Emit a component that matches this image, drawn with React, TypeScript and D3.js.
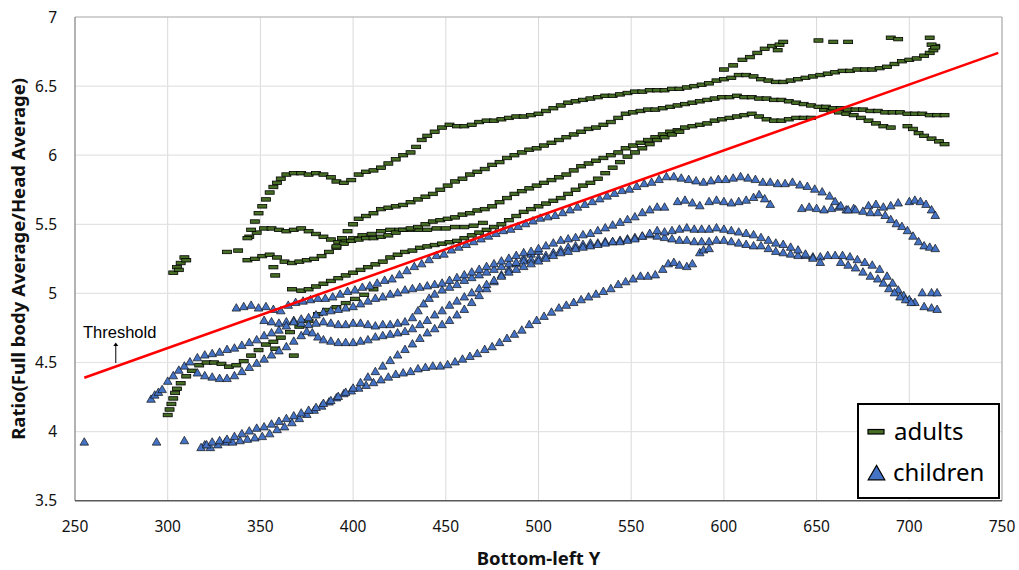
import React from "react";
import * as d3 from "d3";

type P = [number, number];

const xTicks = [250, 300, 350, 400, 450, 500, 550, 600, 650, 700, 750];
const yTicks = [3.5, 4, 4.5, 5, 5.5, 6, 6.5, 7];
const thresholdLine: P[] = [[255, 4.39], [748, 6.74]];

// adults (green dashes)
const adultsA1: P[] = [[343,5.4],[345,5.46],[347,5.52],[349,5.58],[351,5.63],[353,5.68],[355,5.73],[357,5.77],[359,5.8],[361,5.83],[364,5.86],[368,5.87],[372,5.87],[376,5.86],[380,5.87],[384,5.86],[388,5.84],[391,5.81],[395,5.8],[399,5.82],[403,5.86],[407,5.88],[411,5.89],[415,5.91],[419,5.94],[423,5.97],[427,6.0],[431,6.02],[434,6.06],[437,6.11],[440,6.14],[444,6.17],[448,6.2],[452,6.22],[456,6.21],[460,6.21],[464,6.22],[468,6.24],[472,6.25],[476,6.25],[480,6.26],[484,6.27],[488,6.28],[492,6.28],[496,6.29],[500,6.3],[504,6.32],[508,6.34],[512,6.36],[516,6.38],[520,6.39],[524,6.4],[528,6.41],[532,6.42],[536,6.43],[540,6.43],[544,6.44],[548,6.45],[552,6.46],[556,6.46],[560,6.47],[564,6.47],[568,6.47],[572,6.48],[576,6.48],[580,6.49],[584,6.5],[588,6.51],[592,6.52],[596,6.54],[600,6.55],[604,6.56],[608,6.58],[612,6.58],[616,6.57],[620,6.55],[624,6.54],[628,6.53],[632,6.53],[636,6.54],[640,6.55],[644,6.56],[648,6.57],[652,6.58],[656,6.59],[660,6.6],[664,6.61],[668,6.61],[672,6.62],[676,6.62],[680,6.62],[684,6.63],[688,6.64],[692,6.66],[696,6.68],[700,6.69],[704,6.7],[708,6.72],[711,6.74],[713,6.76],[714,6.79]];
const adultsCurl: P[] = [[600,6.62],[605,6.65],[610,6.69],[614,6.71],[618,6.74],[622,6.77],[626,6.79],[630,6.8],[632,6.82],[629,6.76],[651,6.83],[659,6.82],[667,6.82],[690,6.85],[694,6.84],[711,6.85],[712,6.8],[714,6.78]];
const adultsA2: P[] = [[343,5.24],[347,5.25],[351,5.27],[355,5.28],[359,5.26],[363,5.23],[367,5.22],[371,5.23],[375,5.24],[379,5.25],[383,5.27],[387,5.3],[391,5.33],[395,5.36],[399,5.38],[403,5.39],[407,5.4],[411,5.4],[415,5.41],[419,5.42],[423,5.44],[427,5.46],[431,5.47],[435,5.48],[439,5.5],[443,5.52],[447,5.53],[451,5.54],[455,5.55],[459,5.57],[463,5.58],[467,5.6],[471,5.61],[475,5.63],[479,5.66],[483,5.69],[487,5.72],[491,5.74],[495,5.76],[499,5.78],[503,5.8],[507,5.82],[511,5.84],[515,5.86],[519,5.89],[523,5.92],[527,5.94],[531,5.96],[535,5.98],[539,6.0],[543,6.02],[547,6.05],[551,6.07],[555,6.09],[559,6.11],[563,6.13],[567,6.15],[571,6.17],[575,6.18],[579,6.2],[583,6.21],[587,6.22],[591,6.23],[595,6.25],[599,6.26],[603,6.27],[607,6.28],[611,6.29],[615,6.3],[619,6.28],[623,6.26],[627,6.25],[631,6.25],[635,6.26],[639,6.27],[643,6.27],[647,6.27],[654,6.33],[658,6.32],[662,6.31],[666,6.3],[670,6.29],[674,6.27],[678,6.25],[682,6.23],[686,6.21],[690,6.2],[699,6.21],[702,6.19],[705,6.16],[708,6.14],[712,6.12],[716,6.1],[719,6.08]];
const adultsA3: P[] = [[391,5.34],[394,5.4],[397,5.45],[400,5.5],[403,5.54],[407,5.56],[411,5.58],[415,5.61],[419,5.62],[423,5.63],[427,5.64],[431,5.66],[435,5.68],[439,5.7],[443,5.72],[447,5.75],[451,5.78],[455,5.81],[459,5.83],[463,5.86],[467,5.88],[471,5.9],[475,5.93],[479,5.95],[483,5.98],[487,6.0],[491,6.02],[495,6.04],[499,6.05],[503,6.07],[507,6.09],[511,6.11],[515,6.13],[519,6.15],[523,6.17],[527,6.19],[531,6.2],[535,6.22],[539,6.24],[543,6.27],[547,6.3],[551,6.31],[555,6.32],[559,6.33],[563,6.33],[567,6.34],[571,6.35],[575,6.36],[579,6.37],[583,6.38],[587,6.39],[591,6.4],[595,6.41],[599,6.42],[603,6.42],[607,6.43],[611,6.42],[615,6.42],[619,6.41],[623,6.41],[627,6.4],[631,6.4],[635,6.39],[639,6.38],[643,6.37],[647,6.36],[651,6.35],[655,6.35],[659,6.34],[663,6.34],[667,6.33],[671,6.33],[675,6.33],[679,6.32],[683,6.32],[687,6.31],[691,6.31],[695,6.31],[699,6.3],[703,6.3],[707,6.3],[711,6.29],[715,6.29],[719,6.29]];
const adultsA4: P[] = [[372,5.02],[376,5.03],[380,5.05],[384,5.07],[388,5.09],[392,5.11],[396,5.13],[400,5.15],[404,5.17],[408,5.19],[412,5.21],[416,5.23],[420,5.26],[424,5.28],[428,5.3],[432,5.31],[436,5.33],[440,5.34],[444,5.35],[448,5.36],[452,5.37],[456,5.38],[460,5.4],[464,5.42],[468,5.44],[472,5.46],[476,5.48],[480,5.5],[484,5.53],[488,5.56],[492,5.59],[496,5.61],[500,5.63],[504,5.65],[508,5.67],[512,5.69],[516,5.72],[520,5.75],[524,5.78],[528,5.8],[532,5.83],[536,5.87],[540,5.91],[544,5.95],[548,5.99],[552,6.02],[556,6.05],[560,6.08],[564,6.11],[568,6.13],[572,6.15],[576,6.17]];
const adultsA5: P[] = [[300,4.12],[301,4.16],[302,4.2],[303,4.24],[304,4.28],[305,4.31],[307,4.35],[310,4.4],[313,4.44],[317,4.48],[321,4.5],[325,4.5],[329,4.49],[333,4.47],[337,4.48],[341,4.51],[345,4.55],[349,4.59],[353,4.63],[357,4.65],[361,4.68],[366,4.72],[371,4.76],[376,4.8],[381,4.85],[386,4.88],[391,4.9],[396,4.93],[401,4.96],[406,4.99],[411,5.03]];
const adultsA6: P[] = [[344,5.41],[348,5.44],[352,5.47],[356,5.47],[360,5.46],[364,5.45],[368,5.46],[372,5.47],[376,5.45],[380,5.43],[384,5.41],[388,5.39],[392,5.37],[396,5.38],[400,5.4],[405,5.42],[410,5.43],[415,5.45],[420,5.46],[425,5.46],[430,5.46],[435,5.46],[440,5.46],[445,5.47],[450,5.47],[455,5.48],[460,5.48],[465,5.49],[470,5.51]];
const adultsStray: P[] = [[303,5.15],[305,5.19],[307,5.22],[309,5.26],[310,5.24],[306,5.17],[332,5.3],[338,5.31],[357,5.19],[358,5.13],[367,5.03],[368,4.55],[358,4.6]];

// children (blue triangles)
const childrenC1: P[] = [[337,4.89],[341,4.9],[345,4.91],[349,4.89],[353,4.9],[357,4.88],[361,4.87],[365,4.91],[369,4.93],[373,4.94],[377,4.95],[381,4.96],[385,4.96],[389,4.97],[393,4.99],[397,5.01],[401,5.02],[405,5.04],[409,5.05],[413,5.07],[417,5.09],[421,5.1],[425,5.13],[429,5.16],[433,5.19],[437,5.21],[441,5.24],[445,5.27],[449,5.28],[453,5.31],[457,5.33],[461,5.35],[465,5.37],[469,5.39],[473,5.41],[477,5.43],[481,5.45],[485,5.46],[489,5.48],[493,5.5],[497,5.52],[501,5.54],[505,5.55],[509,5.56],[513,5.58],[517,5.6],[521,5.62],[525,5.64],[529,5.66],[533,5.68],[537,5.7],[541,5.72],[545,5.74],[549,5.75],[553,5.77],[557,5.79],[561,5.8],[565,5.82],[569,5.84],[573,5.84],[577,5.83],[581,5.82],[585,5.81],[589,5.8],[593,5.81],[597,5.82],[601,5.82],[605,5.83],[609,5.84],[613,5.83],[617,5.82],[621,5.8],[625,5.8],[629,5.79],[633,5.79],[637,5.8],[641,5.78],[645,5.77],[649,5.75],[653,5.73],[657,5.7],[660,5.66],[663,5.63],[667,5.6],[671,5.6],[675,5.59],[679,5.58],[683,5.58],[687,5.56],[690,5.53],[693,5.5],[696,5.48],[699,5.45],[702,5.41],[705,5.37],[708,5.34],[711,5.33],[714,5.32]];
const childrenC2: P[] = [[291,4.23],[293,4.26],[295,4.28],[297,4.3],[300,4.36],[303,4.4],[306,4.44],[309,4.47],[312,4.5],[316,4.53],[320,4.55],[324,4.56],[328,4.57],[332,4.59],[336,4.6],[340,4.62],[344,4.64],[348,4.66],[352,4.69],[356,4.71],[360,4.73],[364,4.76],[368,4.79],[372,4.81],[376,4.82],[380,4.84],[384,4.86],[388,4.87],[392,4.88],[396,4.89],[400,4.9],[404,4.92],[408,4.94],[412,4.96],[416,4.97],[420,4.99],[424,5.0],[428,5.02],[432,5.03],[436,5.04],[440,5.05],[444,5.06],[448,5.07],[452,5.09],[456,5.11],[460,5.13],[464,5.15],[468,5.17],[472,5.19],[476,5.21],[480,5.23],[484,5.25],[488,5.27],[492,5.29],[496,5.3],[500,5.32],[504,5.34],[508,5.36],[512,5.38],[516,5.39],[520,5.4],[524,5.42],[528,5.43],[532,5.45],[536,5.47],[540,5.49],[544,5.51],[548,5.53],[552,5.55],[556,5.58],[560,5.6],[564,5.62],[568,5.62],[575,5.66],[579,5.67],[583,5.65],[587,5.63],[592,5.66],[596,5.67],[600,5.66],[604,5.65],[608,5.66],[612,5.67],[616,5.69],[619,5.71],[622,5.68],[625,5.64],[642,5.61],[646,5.62],[650,5.61],[654,5.6],[658,5.61],[662,5.62],[666,5.6],[670,5.61],[678,5.63],[682,5.64],[686,5.62],[690,5.63],[694,5.65],[700,5.66],[703,5.67],[706,5.66],[709,5.64],[712,5.6],[714,5.56]];
const childrenC3: P[] = [[316,4.42],[320,4.4],[324,4.39],[328,4.38],[332,4.38],[336,4.4],[340,4.43],[344,4.46],[348,4.49],[352,4.52],[356,4.55],[360,4.58],[364,4.61],[368,4.65],[372,4.69],[375,4.72],[378,4.71],[381,4.68],[384,4.66],[388,4.65],[392,4.64],[396,4.64],[400,4.64],[404,4.65],[408,4.66],[412,4.68],[416,4.69],[420,4.7],[424,4.71],[428,4.72],[432,4.74],[436,4.77],[440,4.8],[444,4.84],[448,4.87],[452,4.91],[456,4.94],[460,4.97],[464,5.0],[468,5.03],[472,5.06],[476,5.09],[480,5.12],[484,5.15],[488,5.17],[492,5.19],[496,5.21],[500,5.23],[504,5.25],[508,5.27],[512,5.29],[516,5.3],[520,5.32],[524,5.33],[528,5.34],[532,5.35],[536,5.36],[540,5.37],[544,5.37],[548,5.38],[552,5.39],[556,5.41],[560,5.43],[564,5.45],[568,5.44],[572,5.45],[576,5.46],[580,5.47],[584,5.46],[588,5.46],[592,5.46],[596,5.47],[600,5.46],[604,5.45],[608,5.44],[612,5.43],[616,5.42],[620,5.4],[624,5.38],[628,5.36],[632,5.35],[636,5.33],[640,5.31],[644,5.28],[648,5.25],[652,5.22],[663,5.22],[667,5.2],[671,5.18],[675,5.15],[679,5.12],[683,5.1],[686,5.07],[689,5.03],[692,5.0],[695,4.97],[698,4.95],[701,4.93]];
const childrenC4: P[] = [[352,4.8],[356,4.79],[360,4.78],[364,4.79],[368,4.8],[372,4.78],[376,4.77],[380,4.78],[384,4.79],[388,4.78],[392,4.77],[396,4.77],[400,4.78],[404,4.78],[408,4.77],[412,4.76],[416,4.77],[420,4.77],[424,4.78],[428,4.79],[432,4.82],[435,4.87],[438,4.92],[441,4.96],[444,4.99],[448,5.02],[452,5.04],[456,5.06],[460,5.09],[464,5.11],[468,5.13],[472,5.15],[476,5.17],[480,5.19],[484,5.21],[488,5.22],[492,5.23],[496,5.24],[500,5.25],[504,5.27],[508,5.29],[512,5.31],[516,5.33],[520,5.34],[524,5.35],[528,5.36],[532,5.36],[536,5.37],[540,5.37],[544,5.38],[548,5.39],[552,5.4],[556,5.41],[560,5.42],[564,5.41],[568,5.4],[572,5.39],[576,5.38],[580,5.38],[584,5.37],[588,5.37],[592,5.37],[596,5.38],[600,5.38],[604,5.37],[608,5.36],[612,5.35],[616,5.34],[620,5.34],[624,5.32],[628,5.3],[632,5.29],[636,5.28],[640,5.27],[644,5.27],[648,5.26],[652,5.26],[656,5.27],[660,5.27],[664,5.27],[668,5.26],[672,5.24],[676,5.22],[680,5.2],[684,5.17],[688,5.12],[691,5.07],[694,5.02],[697,4.98],[700,4.95],[703,4.93]];
const childrenC5: P[] = [[318,3.88],[321,3.9],[324,3.92],[328,3.93],[332,3.94],[336,3.96],[340,3.98],[344,4.0],[348,4.02],[352,4.03],[356,4.05],[360,4.07],[364,4.09],[368,4.11],[372,4.13],[376,4.15],[380,4.17],[384,4.2],[388,4.22],[392,4.25],[396,4.28],[400,4.31],[404,4.35],[408,4.39],[412,4.43],[416,4.47],[420,4.51],[424,4.55],[428,4.59],[432,4.63],[436,4.67],[440,4.71],[444,4.74],[448,4.77],[452,4.8],[456,4.84],[460,4.88],[464,4.93],[468,4.98],[472,5.03],[476,5.08],[480,5.13],[484,5.17],[488,5.21],[492,5.25],[496,5.28],[500,5.3]];
const childrenC6: P[] = [[320,3.9],[323,3.88],[327,3.9],[331,3.92],[335,3.92],[339,3.93],[343,3.94],[347,3.95],[351,3.96],[355,3.98],[359,4.01],[363,4.03],[367,4.06],[371,4.09],[375,4.12],[379,4.15],[383,4.18],[387,4.21],[391,4.24],[395,4.27],[399,4.29],[403,4.31],[407,4.33],[411,4.35],[415,4.37],[419,4.39],[423,4.41],[427,4.42],[431,4.43],[435,4.45],[439,4.46],[443,4.47],[447,4.47],[451,4.48],[455,4.5],[459,4.52],[463,4.54],[467,4.56],[471,4.59],[475,4.61],[479,4.64],[483,4.67],[487,4.7],[491,4.73],[495,4.77],[499,4.8],[503,4.83],[507,4.86],[511,4.89],[515,4.91],[519,4.93],[523,4.95],[527,4.97],[531,4.99],[535,5.01],[539,5.03],[543,5.06],[547,5.08],[551,5.1],[555,5.12],[559,5.12],[563,5.13],[567,5.17],[570,5.21],[573,5.22],[576,5.2],[580,5.19],[583,5.21],[587,5.29],[589,5.31],[592,5.32]];
const childrenStray: P[] = [[255,3.92],[294,3.92],[309,3.93],[707,5.0],[712,5.0],[715,5.0],[708,4.9],[712,4.89],[715,4.88]];

const adults: P[] = [...adultsA5, ...adultsA6, ...adultsA2, ...adultsA3, ...adultsA4, ...adultsA1, ...adultsCurl, ...adultsStray];
const children: P[] = [...childrenC6, ...childrenC5, ...childrenC4, ...childrenC3, ...childrenC2, ...childrenC1, ...childrenStray];

const W = 1019, H = 570;
const L = 75, R = 1002, T = 17, B = 500.7;

export default function App() {
  const x = d3.scaleLinear().domain([250, 750]).range([L, R]);
  const y = d3.scaleLinear().domain([3.5, 7]).range([B, T]);
  const tri = d3.symbol().type(d3.symbolTriangle).size(32)() as string;
  const triBig = d3.symbol().type(d3.symbolTriangle).size(120)() as string;
  const sans = "'Noto Sans', 'Liberation Sans', Arial, sans-serif";
  const line = d3.line<P>().x(d => x(d[0])).y(d => y(d[1]));
  const arrowX = x(272);
  return (
    <svg width={W} height={H} style={{ position: "absolute", left: 0, top: 0, background: "#fff" }}>
      <rect x={0} y={0} width={W} height={H} fill="#fff" />
      {xTicks.filter(t => t > 250 && t < 750).map(t => (
        <line key={"gx" + t} x1={x(t)} x2={x(t)} y1={T} y2={B} stroke="#d9d9d9" strokeWidth={1} />
      ))}
      {yTicks.filter(t => t > 3.5 && t < 7).map(t => (
        <line key={"gy" + t} x1={L} x2={R} y1={y(t)} y2={y(t)} stroke="#e3e3e3" strokeWidth={1.2} />
      ))}
      <line x1={L} x2={R} y1={T} y2={T} stroke="#a6a6a6" strokeWidth={1.2} />
      <line x1={R} x2={R} y1={T} y2={B} stroke="#a6a6a6" strokeWidth={1.2} />
      <line x1={L} x2={L} y1={T} y2={B} stroke="#7f7f7f" strokeWidth={1.2} />
      <line x1={L} x2={R} y1={B} y2={B} stroke="#595959" strokeWidth={1.5} />
      {xTicks.map(t => (
        <text key={"tx" + t} x={x(t)} y={532} textAnchor="middle" fontFamily={sans} fontSize={15.5} fill="#111">{t}</text>
      ))}
      {yTicks.map(t => (
        <text key={"ty" + t} x={57} y={y(t)} dy="0.36em" textAnchor="end" fontFamily={sans} fontSize={15.5} fill="#111">{t}</text>
      ))}
      <g>
        {adults.map((d, i) => (
          <rect key={"a" + i} x={x(d[0]) - 4.5} y={y(d[1]) - 1.75} width={9} height={3.5} fill="#476e25" stroke="#000" strokeWidth={0.8} />
        ))}
      </g>
      <g>
        {children.map((d, i) => (
          <path key={"c" + i} d={tri} transform={`translate(${x(d[0])},${y(d[1])})`} fill="#4472c4" stroke="#111" strokeWidth={0.7} />
        ))}
      </g>
      <path d={line(thresholdLine) as string} stroke="#ff0000" strokeWidth={2.5} fill="none" />
      <text x={x(254.3)} y={y(4.677)} fontFamily="'Liberation Sans', Arial, sans-serif" fontSize={16.5} fill="#000">Threshold</text>
      <line x1={arrowX} x2={arrowX} y1={y(4.496)} y2={y(4.62)} stroke="#000" strokeWidth={1} />
      <path d={`M${arrowX - 2.5},${y(4.62)} L${arrowX + 2.5},${y(4.62)} L${arrowX},${y(4.645)} Z`} fill="#000" />
      <text x={538.5} y={565} textAnchor="middle" fontFamily={sans} fontWeight="bold" fontSize={18.5} fill="#111">Bottom-left Y</text>
      <text transform={`translate(25,${(T + B) / 2}) rotate(-90)`} textAnchor="middle" fontFamily={sans} fontWeight="bold" fontSize={18.5} fill="#111">Ratio(Full body Average/Head Average)</text>
      <g>
        <rect x={858} y={404} width={141} height={94} fill="#fff" stroke="#000" strokeWidth={2} />
        <rect x={868} y={429.5} width={16} height={4.5} fill="#476e25" stroke="#000" strokeWidth={1.2} />
        <text x={894} y={440} fontFamily={sans} fontSize={24} fill="#000">adults</text>
        <path d={triBig} transform="translate(876.5,475)" fill="#4472c4" stroke="#000" strokeWidth={1.2} />
        <text x={893} y={481} fontFamily={sans} fontSize={24} fill="#000">children</text>
      </g>
    </svg>
  );
}
